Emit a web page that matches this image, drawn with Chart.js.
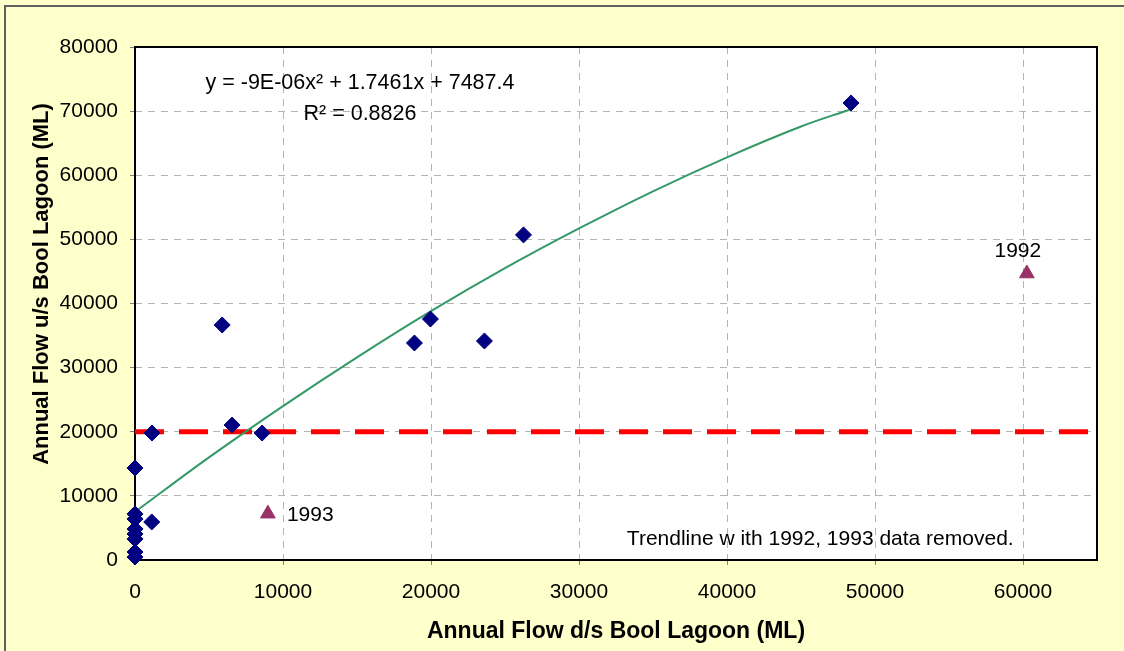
<!DOCTYPE html>
<html>
<head>
<meta charset="utf-8">
<style>
    html, body { margin: 0; padding: 0; background: #ffffcc; }
    #chart { display: block; }
</style>
<script src="https://cdn.jsdelivr.net/npm/chart.js@4.4.1/dist/chart.umd.min.js"></script>
</head>
<body>
<canvas id="chart" width="1124" height="651"></canvas>
<script>
// observed years (x = flow d/s, y = flow u/s), ML
const obsX = [0, 0, 0, 0, 0, 0, 0, 0, 1130, 1150, 5890, 6560, 8590, 18880, 19960, 23610, 26250, 48380];
const obsY = [14350, 7180, 6400, 4840, 4060, 3280, 1250, 470, 5930, 19800, 36650, 21050, 19800, 33840, 37580, 34150, 50700, 71270];

// excluded years
const outlierYears = ['1992', '1993'];
const outlierX = [60260, 8980];
const outlierY = [44670, 7220];

// trendline
const trendX = [0, 5000, 10000, 15000, 20000, 25000, 30000, 35000, 40000, 45000, 48380];
const trendY = [7500, 16000, 24000, 31600, 38800, 45500, 51700, 57500, 62800, 67600, 70300];

const limitX = [0, 65000];
const limitY = [20000, 20000];

const xTicks = [0, 10000, 20000, 30000, 40000, 50000, 60000];
const yTicks = [0, 10000, 20000, 30000, 40000, 50000, 60000, 70000, 80000];

const notes = [
    { text: 'y = -9E-06x\u00B2 + 1.7461x + 7487.4', x: 15200, y: 74300, size: 21.5 },
    { text: 'R\u00B2 = 0.8826', x: 15200, y: 69600, size: 21.5 },
    { text: 'Trendline w ith 1992, 1993 data removed.', x: 46300, y: 3300, size: 21 }
];

const xTitle = 'Annual Flow d/s Bool Lagoon (ML)';
const yTitle = 'Annual Flow u/s Bool Lagoon (ML)';

const FONT = "'Liberation Sans', Arial, sans-serif";

const toPts = (xs, ys) => xs.map((x, i) => ({ x, y: ys[i] }));

const frame = {
    id: 'frame',
    beforeDraw(chart) {
        const { ctx, chartArea: a } = chart;
        ctx.save();
        ctx.fillStyle = '#ffffcc';
        ctx.fillRect(0, 0, chart.width, chart.height);
        ctx.strokeStyle = '#606060';
        ctx.lineWidth = 2;
        ctx.strokeRect(5, 6, chart.width + 10, chart.height + 10);
        ctx.fillStyle = '#ffffff';
        ctx.fillRect(a.left, a.top, a.right - a.left, a.bottom - a.top);
        ctx.restore();
    },
    beforeDatasetsDraw(chart) {
        const { ctx, chartArea: a } = chart;
        ctx.save();
        ctx.strokeStyle = '#000000';
        ctx.lineWidth = 2;
        ctx.strokeRect(a.left, a.top, a.right - a.left, a.bottom - a.top);
        // y axis title, sits a little above the plot centre in the original
        ctx.translate(42, 284);
        ctx.rotate(-Math.PI / 2);
        ctx.fillStyle = '#000000';
        ctx.font = `bold 22px ${FONT}`;
        ctx.textAlign = 'center';
        ctx.textBaseline = 'middle';
        ctx.fillText(yTitle, 0, 0);
        ctx.restore();
    },
    afterDatasetsDraw(chart) {
        const { ctx, scales: { x, y } } = chart;
        ctx.save();
        ctx.fillStyle = '#000000';
        ctx.textBaseline = 'middle';
        ctx.textAlign = 'center';
        notes.forEach(n => {
            ctx.font = `${n.size}px ${FONT}`;
            ctx.fillText(n.text, x.getPixelForValue(n.x), y.getPixelForValue(n.y));
        });
        // year labels next to the excluded points
        ctx.font = `21px ${FONT}`;
        ctx.fillText(outlierYears[0], x.getPixelForValue(outlierX[0]) - 9, y.getPixelForValue(outlierY[0]) - 22);
        ctx.textAlign = 'left';
        ctx.fillText(outlierYears[1], x.getPixelForValue(outlierX[1]) + 19, y.getPixelForValue(outlierY[1]) + 2);
        ctx.restore();
    }
};

new Chart(document.getElementById('chart'), {
    type: 'scatter',
    data: {
        datasets: [
            {
                label: 'limit',
                type: 'line',
                data: toPts(limitX, limitY),
                borderColor: '#ff0000',
                borderWidth: 5,
                borderDash: [29, 15],
                pointRadius: 0,
                order: 3
            },
            {
                label: 'trend',
                type: 'line',
                data: toPts(trendX, trendY),
                borderColor: '#339966',
                borderWidth: 2,
                tension: 0.4,
                pointRadius: 0,
                order: 2
            },
            {
                label: 'observed',
                data: toPts(obsX, obsY),
                pointStyle: 'rectRot',
                pointRadius: 8,
                backgroundColor: '#000080',
                borderColor: '#000080',
                borderWidth: 1,
                clip: false,
                order: 1
            },
            {
                label: 'excluded',
                data: toPts(outlierX, outlierY),
                pointStyle: 'triangle',
                pointRadius: 8.5,
                backgroundColor: '#993366',
                borderColor: '#993366',
                borderWidth: 1,
                clip: false,
                order: 1
            }
        ]
    },
    options: {
        responsive: false,
        devicePixelRatio: 1,
        animation: false,
        layout: { padding: { top: 47, right: 27, left: 0, bottom: 0 } },
        plugins: { legend: { display: false }, tooltip: { enabled: false } },
        scales: {
            x: {
                type: 'linear',
                min: 0,
                max: 65000,
                afterFit: (s) => { s.height = 91; },
                afterBuildTicks: (s) => { s.ticks = xTicks.map(v => ({ value: v })); },
                ticks: { color: '#000000', padding: 15, maxRotation: 0, font: { family: FONT, size: 21 }, callback: (v) => String(v) },
                grid: { color: '#b4b4b4', lineWidth: 1, tickLength: 5, tickColor: '#808080' },
                border: { display: false, dash: [7, 6] },
                title: {
                    display: true,
                    text: xTitle,
                    color: '#000000',
                    font: { family: FONT, size: 23, weight: 'bold' },
                    padding: { top: 0, bottom: 6 }
                }
            },
            y: {
                type: 'linear',
                min: 0,
                max: 80000,
                afterFit: (s) => { s.width = 135; },
                afterBuildTicks: (s) => { s.ticks = yTicks.map(v => ({ value: v })); },
                ticks: { color: '#000000', padding: 12, font: { family: FONT, size: 21 }, callback: (v) => String(v) },
                grid: { color: '#b4b4b4', lineWidth: 1, tickLength: 5, tickColor: '#808080' },
                border: { display: false, dash: [7, 6] },
                title: { display: false }
            }
        }
    },
    plugins: [frame]
});
</script>
</body>
</html>
